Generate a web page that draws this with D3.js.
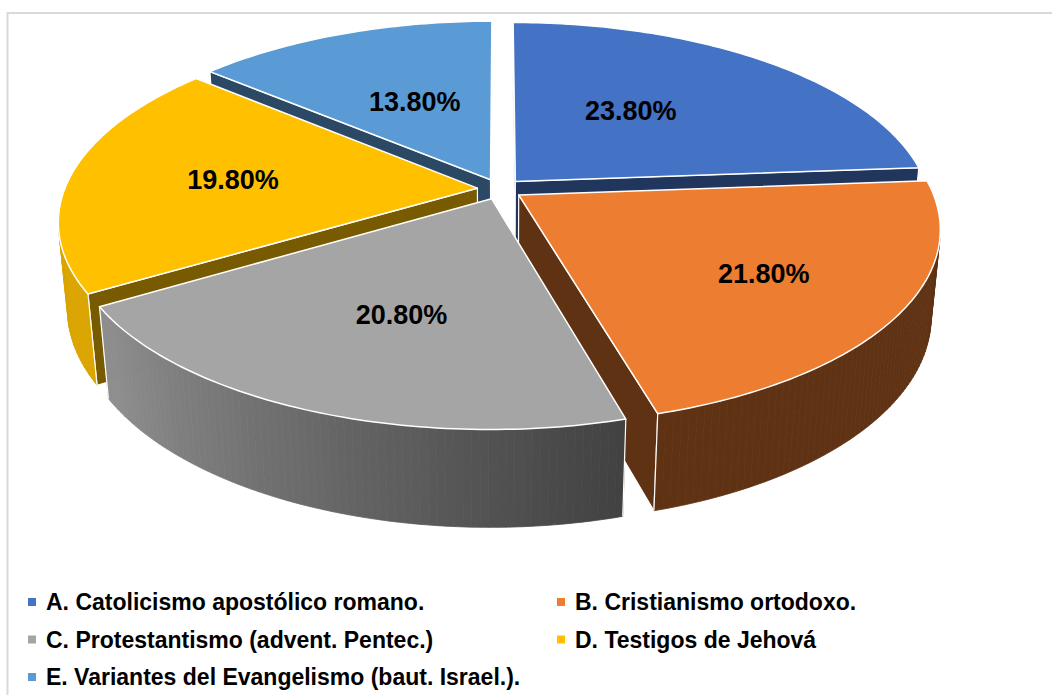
<!DOCTYPE html>
<html>
<head>
<meta charset="utf-8">
<script src="https://cdn.jsdelivr.net/npm/d3@7"></script>
<style>
  body { margin: 0; background: #fff; }
  svg { display: block; font-family: "Liberation Sans", Arial, sans-serif; }
</style>
</head>
<body>
<svg id="chart" width="1052" height="695"></svg>
<script>
// data
const categories = [
  "A. Catolicismo apostólico romano.",
  "B. Cristianismo ortodoxo.",
  "C. Protestantismo (advent. Pentec.)",
  "D. Testigos de Jehová",
  "E. Variantes del Evangelismo (baut. Israel.)."
];
const values = [23.8, 21.8, 20.8, 19.8, 13.8];
const colors = ["#4472C4", "#ED7D31", "#A5A5A5", "#FFC000", "#5B9BD5"];

// where each data label sits on its slice (fraction of radius, angle nudge)
const labelRadius = [0.51, 0.67, 0.58, 0.60, 0.50];
const labelNudge = [-0.11, 0, -0.035, 0, 0.02];

const svg = d3.select("#chart");

// chart frame
svg.append("rect")
  .attr("x", 7.5).attr("y", 13)
  .attr("width", 1200).attr("height", 900)
  .attr("fill", "none")
  .attr("stroke", "#d9d9d9")
  .attr("stroke-width", 2);

// simple perspective camera for the 3d pie
const cam = { k: 2175, D: 5.27, s: 0.456, c: 0.890, cx: 500, cy: 189 };
const depth = 0.238;     // pie thickness (radius = 1)
const explode = 0.055;   // every slice pulled out a bit
const step = Math.PI / 180;

function proj(p) {
  const d = cam.D - cam.c * p[1] - cam.s * p[2];
  return [cam.cx + cam.k * p[0] / d, cam.cy - cam.k * (-cam.s * p[1] + cam.c * p[2]) / d];
}
const rim = (a, z, o, r = 1) => [o[0] + r * Math.sin(a), o[1] - r * Math.cos(a), z];

function area(pts) {
  let s = 0;
  for (let i = 0; i < pts.length; i++) {
    const p = pts[i], q = pts[(i + 1) % pts.length];
    s += p[0] * q[1] - q[0] * p[1];
  }
  return s;
}
const line = d3.line();

function shade(col, f) {
  const c = d3.rgb(col);
  return d3.rgb(c.r * f, c.g * f, c.b * f).formatHex();
}
// light comes from the front-left
function wallShade(a) {
  const deg = ((a * 180 / Math.PI) % 360 + 360) % 360;
  const t = Math.max(0, Math.min(1, (deg - 165) / 70));
  return 0.40 + 0.46 * t;
}

const pie = d3.pie().sort(null).value(d => d)(values);

const slices = pie.map((d, i) => {
  const mid = (d.startAngle + d.endAngle) / 2;
  return {
    i, a0: d.startAngle, a1: d.endAngle, mid,
    off: [explode * Math.sin(mid), -explode * Math.cos(mid)],
    color: colors[i], value: values[i]
  };
});

// painter's order: back slices first
const order = slices.slice().sort((p, q) => -Math.cos(p.mid) - -Math.cos(q.mid));

const gPie = svg.append("g");

order.forEach(sl => {
  const g = gPie.append("g");
  const o = sl.off;
  const ct = [o[0], o[1], 0], cb = [o[0], o[1], -depth];

  // cut faces
  const faces = [
    [ct, cb, rim(sl.a0, -depth, o), rim(sl.a0, 0, o)],
    [ct, rim(sl.a1, 0, o), rim(sl.a1, -depth, o), cb]
  ];
  faces.forEach(f => {
    const pts = f.map(proj);
    if (area(pts) <= 0) return;
    g.append("path")
      .attr("d", line(pts) + "Z")
      .attr("fill", shade(sl.color, sl.i === 1 ? 0.40 : 0.47))
      .attr("stroke", "#fff")
      .attr("stroke-width", 1.2)
      .attr("stroke-linejoin", "round");
  });

  // outer wall, built from thin strips so the light can vary
  const n = Math.ceil((sl.a1 - sl.a0) / step);
  const da = (sl.a1 - sl.a0) / n;
  const vis = [];
  for (let j = 0; j < n; j++) {
    const a = sl.a0 + j * da, b = a + da;
    const pts = [rim(a, 0, o), rim(a, -depth, o), rim(b, -depth, o), rim(b, 0, o)].map(proj);
    if (area(pts) <= 0) continue;
    const col = shade(sl.color, wallShade(a + da / 2));
    g.append("path")
      .attr("d", line(pts) + "Z")
      .attr("fill", col)
      .attr("stroke", col)
      .attr("stroke-width", 0.8);
    vis.push(j);
  }
  // white edges at the ends of the wall
  if (vis.length) {
    const first = sl.a0 + vis[0] * da, last = sl.a0 + (vis[vis.length - 1] + 1) * da;
    [first, last].forEach(a => {
      if (Math.abs(a - sl.a0) < 1e-6 || Math.abs(a - sl.a1) < 1e-6) {
        g.append("path")
          .attr("d", line([rim(a, 0, o), rim(a, -depth, o)].map(proj)))
          .attr("stroke", "#fff")
          .attr("stroke-width", 1.2);
      }
    });
  }

  // top face
  const top = [proj(ct)];
  for (let j = 0; j <= n; j++) top.push(proj(rim(sl.a0 + j * da, 0, o)));
  g.append("path")
    .attr("d", line(top) + "Z")
    .attr("fill", sl.color)
    .attr("stroke", "#fff")
    .attr("stroke-width", 1.5)
    .attr("stroke-linejoin", "round");
});

// data labels
slices.forEach(sl => {
  const p = proj(rim(sl.mid + labelNudge[sl.i], 0, sl.off, labelRadius[sl.i]));
  svg.append("text")
    .attr("x", p[0]).attr("y", p[1])
    .attr("text-anchor", "middle")
    .attr("dy", "0.36em")
    .attr("font-size", 27)
    .attr("font-weight", "bold")
    .attr("fill", "#000")
    .text(d3.format(".2f")(sl.value) + "%");
});

// legend
const legX = [28, 557], legY = [610, 647.5, 685];
const legend = svg.append("g");
categories.forEach((c, i) => {
  const x = legX[i % 2], y = legY[Math.floor(i / 2)];
  legend.append("rect")
    .attr("x", x).attr("y", y - 12)
    .attr("width", 8).attr("height", 8)
    .attr("fill", colors[i]);
  legend.append("text")
    .attr("x", x + 18).attr("y", y)
    .attr("font-size", 23)
    .attr("font-weight", "bold")
    .attr("fill", "#000")
    .text(c);
});
</script>
</body>
</html>
